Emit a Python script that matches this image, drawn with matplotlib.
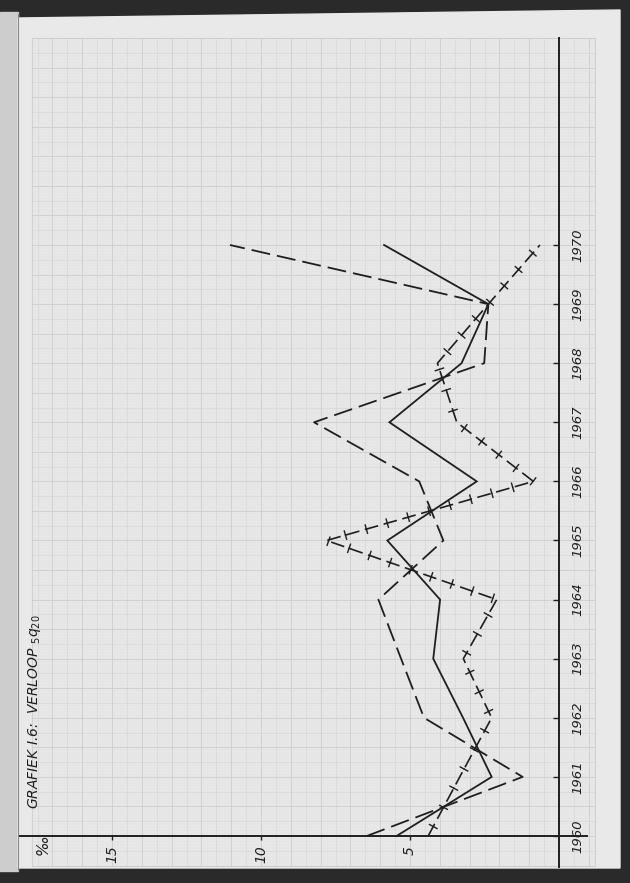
import numpy as np
import matplotlib.pyplot as plt
from matplotlib import patheffects as pe
from matplotlib.patches import Polygon, Rectangle

# jaren en drie reeksen (promille)
years = [1960, 1961, 1962, 1963, 1964, 1965, 1966, 1967, 1968, 1969, 1970]
solid_vals = [5.45, 2.26, 3.22, 4.22, 3.99, 5.76, 2.76, 5.69, 3.27, 2.37, 5.87]
dash_vals = [6.45, 1.22, 4.53, 5.30, 6.06, 3.88, 4.69, 8.22, 2.51, 2.37, 11.04]
cross_vals = [4.39, 3.33, 2.26, 3.21, 2.09, 7.80, 0.86, 3.43, 4.08, 2.37, 0.64]

value_ticks = [5, 10, 15]
value_labels = ['5', '10', '15']
year_labels = [str(y) for y in years]
title = r'GRAFIEK I.6:  VERLOOP $_5q_{20}$'
unit = '‰'

ink = '#1f1f1f'
plt.rcParams['font.family'] = ['DejaVu Sans']
plt.rcParams['mathtext.fontset'] = 'dejavusans'

W, H = 630, 883
fig = plt.figure(figsize=(W / 100, H / 100), dpi=100)

# achtergrond: scan met papier
bg = fig.add_axes([0, 0, 1, 1])
bg.set_xlim(0, W)
bg.set_ylim(H, 0)
bg.axis('off')
bg.add_patch(Rectangle((0, 0), W, H, color='#2a2a2a'))
bg.add_patch(Polygon([(0, 12), (18, 12), (18, 871), (0, 871)], color='#cdcdcd'))
bg.add_patch(Polygon([(18, 18), (620, 10), (620, 868), (18, 868)], color='#e9e9e9'))
bg.plot([18, 18], [14, 870], color='#8a8a8a', lw=0.8)

# grafiek-assen: waarde loopt naar links, jaren naar boven
ax = fig.add_axes([20 / W, 16 / H, 576 / W, 829 / H])
ax.patch.set_alpha(0)
ax.set_xlim((559 - 20) / 29.8, (559 - 596) / 29.8)
ax.set_ylim(1960 - 31 / 59.1, 1960 + 798 / 59.1)

# millimeterpapier
gx0, gx1 = -1.2, 17.7
gy0, gy1 = 1959.5, 1973.5
fine_x = np.round(np.arange(gx0, gx1 + 0.01, 0.1), 2)
fine_y = np.round(np.arange(gy0, gy1 + 0.001, 0.05), 3)
ax.vlines(fine_x, gy0, gy1, color='#e0e0e0', lw=0.3, zorder=0)
ax.hlines(fine_y, gx0, gx1, color='#e0e0e0', lw=0.3, zorder=0)
mid_x = np.round(np.arange(-1.0, gx1, 0.5), 2)
mid_y = np.round(np.arange(gy0, gy1 + 0.001, 0.25), 3)
ax.vlines(mid_x, gy0, gy1, color='#d8d8d8', lw=0.5, zorder=0)
ax.hlines(mid_y, gx0, gx1, color='#d8d8d8', lw=0.5, zorder=0)
maj_x = np.arange(-1, 18, 1)
maj_y = np.arange(1959.5, gy1 + 0.001, 0.5)
ax.vlines(maj_x, gy0, gy1, color='#cecece', lw=0.6, zorder=0)
ax.hlines(maj_y, gx0, gx1, color='#cecece', lw=0.6, zorder=0)
ax.vlines([gx0, gx1], gy0, gy1, color='#cccccc', lw=0.6, zorder=0)
ax.hlines([gy0, gy1], gx0, gx1, color='#cccccc', lw=0.6, zorder=0)

# reeksen
ax.plot(solid_vals, years, color=ink, lw=1.3, solid_joinstyle='miter', zorder=3)
ax.plot(dash_vals, years, color=ink, lw=1.3, dashes=(10.5, 3.9), zorder=3)
ax.plot(cross_vals, years, color=ink, lw=1.2, dashes=(8.3, 3.4), zorder=3)
ax.plot(cross_vals, years, color=ink, lw=1.0, zorder=3,
        path_effects=[pe.TickedStroke(angle=90, spacing=15.5, length=0.2),
                      pe.TickedStroke(angle=-90, spacing=15.5, length=0.2)])

# assen
for s in ['top', 'left']:
    ax.spines[s].set_visible(False)
ax.spines['right'].set_position(('data', 0))
ax.spines['bottom'].set_position(('data', 1960))
ax.spines['bottom'].set_bounds((559 - 587) / 29.8, (559 - 20) / 29.8)
for s in ['right', 'bottom']:
    ax.spines[s].set_color(ink)
    ax.spines[s].set_linewidth(1.4)
ax.yaxis.tick_right()
ax.set_yticks(years)
ax.set_yticklabels(year_labels, rotation=90, va='center', fontsize=9.5, style='italic', color=ink)
ax.tick_params(axis='y', direction='in', length=4, width=1, colors=ink, pad=9)
ax.set_xticks(value_ticks)
ax.set_xticklabels(value_labels, rotation=90, fontsize=10, style='italic', color=ink)
ax.tick_params(axis='x', direction='out', length=3, width=1, colors=ink, pad=4)

ax.text((559 - 43) / 29.8, 1959.85, unit, rotation=90, ha='center', va='center',
        fontsize=11, style='italic', color=ink)
fig.text(35 / W, 1 - 712 / H, title, rotation=90, ha='center', va='center',
         fontsize=10, style='italic', color=ink)

fig.savefig('out.png', dpi=100)
